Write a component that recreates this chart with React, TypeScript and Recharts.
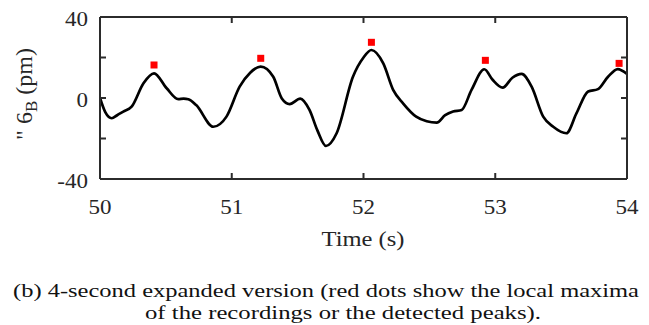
import React from 'react';
import { ComposedChart, Line, Scatter, XAxis, YAxis } from 'recharts';

const times = [50, 50.04, 50.089, 50.13, 50.177, 50.24, 50.33, 50.41, 50.506, 50.594, 50.635, 50.67, 50.73, 50.86, 50.96, 51.06, 51.14, 51.22, 51.315, 51.38, 51.44, 51.52, 51.59, 51.65, 51.715, 51.796, 51.92, 52.0, 52.06, 52.15, 52.226, 52.3, 52.4, 52.48, 52.556, 52.62, 52.68, 52.745, 52.82, 52.917, 52.98, 53.056, 53.13, 53.2, 53.276, 53.364, 53.44, 53.54, 53.617, 53.705, 53.78, 53.856, 53.93, 54];
const values = [0, -7, -10, -8.5, -6.7, -4.3, 7.3, 12.2, 4.8, -0.6, -0.3, -0.6, -3.5, -14.2, -9.2, 5.6, 12.5, 15.5, 10.5, -0.2, -3, -0.3, -5.9, -16, -23.7, -17.4, 10.5, 20, 23.7, 17.1, 3.9, -2.6, -9.2, -11.5, -12.2, -8.5, -6.7, -5.9, 4, 14.2, 9, 5.1, 10, 11.9, 5.6, -9.2, -14.2, -17.4, -7.5, 3.2, 4.4, 10.5, 14.3, 11.9];

const peakTimes = [50.41, 51.22, 52.06, 52.925, 53.94];
const peakValues = [16.3, 19.6, 27.5, 18.6, 17.1];

const xTicks = [50, 51, 52, 53, 54];
const yTicks = [-40, -20, 0, 20, 40];
const yLabeled = [-40, 0, 40];

const captionLine1 = '(b) 4-second expanded version (red dots show the local maxima';
const captionLine2 = 'of the recordings or the detected peaks).';

const lineData = times.map((t, i) => ({ t, v: values[i] }));
const peakData = peakTimes.map((t, i) => ({ t, v: peakValues[i] }));

const SERIF = 'Liberation Serif, Times New Roman, Times, serif';
const AXIS = '#2b2b2b';
const TXT = '#262626';
const TL = 6;
const serifStyle = { fontFamily: SERIF };

const LeftTick = (props: any) => {
  const { x, y, payload } = props;
  return (
    <g>
      <line x1={x} x2={x + TL} y1={y} y2={y} stroke={AXIS} strokeWidth={2} />
      {yLabeled.includes(payload.value) && (
        <text transform={`translate(${x - 12},${y + 8.5}) scale(1.15,1)`} textAnchor="end" fontSize={20} style={serifStyle} fill={TXT}>
          {payload.value}
        </text>
      )}
    </g>
  );
};

const RightTick = (props: any) => {
  const { x, y } = props;
  return <line x1={x - TL} x2={x} y1={y} y2={y} stroke={AXIS} strokeWidth={2} />;
};

const BottomTick = (props: any) => {
  const { x, y, payload } = props;
  return (
    <g>
      <line x1={x} x2={x} y1={y} y2={y - TL} stroke={AXIS} strokeWidth={2} />
      <text transform={`translate(${x},${y + 35}) scale(1.15,1)`} textAnchor="middle" fontSize={20} style={serifStyle} fill={TXT}>
        {payload.value}
      </text>
    </g>
  );
};

const TopTick = (props: any) => {
  const { x, y } = props;
  return <line x1={x} x2={x} y1={y} y2={y + TL} stroke={AXIS} strokeWidth={2} />;
};

const SquareDot = (props: any) => {
  const { cx, cy } = props;
  if (cx == null || cy == null) return null;
  return <rect x={cx - 3.5} y={cy - 3.5} width={7} height={7} fill="#ff0000" />;
};

export default function App() {
  return (
    <div style={{ position: 'absolute', left: 0, top: 0, width: 649, height: 325, background: '#fff' }}>
      <ComposedChart width={649} height={325} margin={{ top: 16, right: 21, left: 99, bottom: 145 }}>
        <XAxis xAxisId="b" dataKey="t" type="number" domain={[50, 54]} ticks={xTicks} orientation="bottom" height={1}
          tickSize={0} tickMargin={0} tick={<BottomTick />} axisLine={{ stroke: AXIS, strokeWidth: 2 }} tickLine={false} allowDataOverflow interval={0} />
        <XAxis xAxisId="top" dataKey="t" type="number" domain={[50, 54]} ticks={xTicks} orientation="top" height={1}
          tickSize={0} tickMargin={0} tick={<TopTick />} axisLine={{ stroke: AXIS, strokeWidth: 2 }} tickLine={false} allowDataOverflow interval={0} />
        <YAxis yAxisId="l" type="number" domain={[-40, 40]} ticks={yTicks} orientation="left" width={1}
          tickSize={0} tickMargin={0} tick={<LeftTick />} axisLine={{ stroke: AXIS, strokeWidth: 2 }} tickLine={false} allowDataOverflow interval={0} />
        <YAxis yAxisId="r" type="number" domain={[-40, 40]} ticks={yTicks} orientation="right" width={1}
          tickSize={0} tickMargin={0} tick={<RightTick />} axisLine={{ stroke: AXIS, strokeWidth: 2 }} tickLine={false} allowDataOverflow interval={0} />
        <Line xAxisId="b" yAxisId="l" data={lineData} dataKey="v" type="monotone" stroke="#000" strokeWidth={2.7}
          dot={false} activeDot={false} isAnimationActive={false} />
        <Line xAxisId="top" yAxisId="r" data={lineData} dataKey="v" type="monotone" stroke="none" strokeWidth={0}
          dot={false} activeDot={false} isAnimationActive={false} />
        <Scatter xAxisId="b" yAxisId="l" data={peakData} dataKey="v" shape={<SquareDot />} isAnimationActive={false} />
      </ComposedChart>
      <svg width={649} height={325} style={{ position: 'absolute', left: 0, top: 0, pointerEvents: 'none' }}>
        <text x={363} y={245.5} textAnchor="middle" fontSize={21} style={serifStyle} fill={TXT} textLength={83} lengthAdjust="spacingAndGlyphs">
          Time (s)
        </text>
        <text transform="translate(32,94) rotate(-90)" textAnchor="middle" fontSize={24} style={serifStyle} fill={TXT}>
          <tspan>{'" 6'}</tspan>
          <tspan fontSize={17} dy={5}>B</tspan>
          <tspan dy={-5}>{' (pm)'}</tspan>
        </text>
        <text x={13} y={297} fontSize={19} style={serifStyle} fill="#111" textLength={626} lengthAdjust="spacingAndGlyphs">
          {captionLine1}
        </text>
        <text x={145} y={319} fontSize={19} style={serifStyle} fill="#111" textLength={396} lengthAdjust="spacingAndGlyphs">
          {captionLine2}
        </text>
      </svg>
    </div>
  );
}
